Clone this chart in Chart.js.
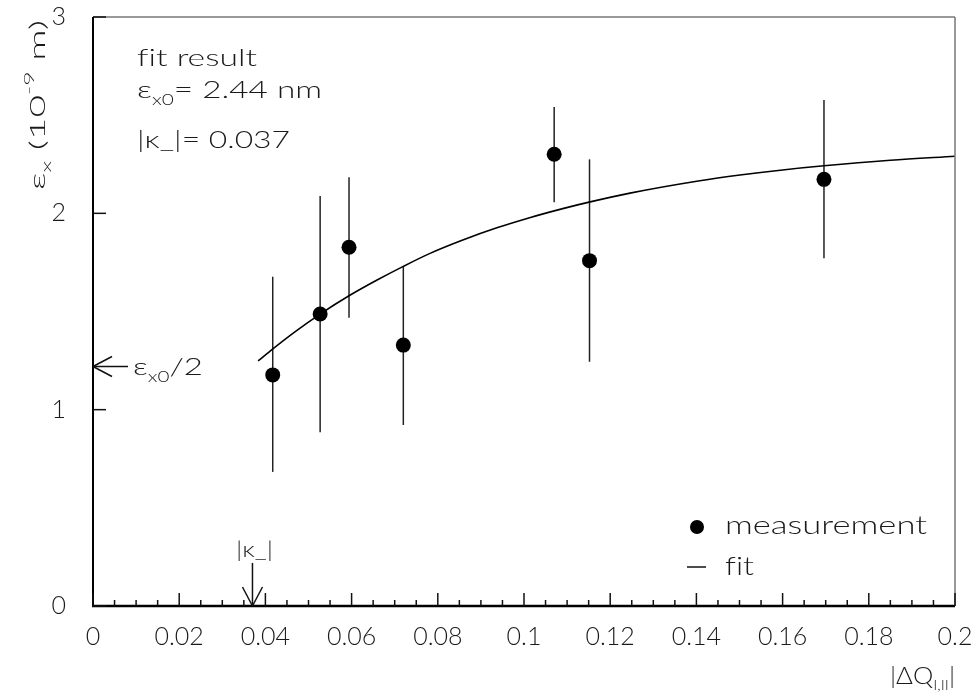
<!DOCTYPE html>
<html><head><meta charset="utf-8">
<script src="https://cdn.jsdelivr.net/npm/chart.js@4/dist/chart.umd.min.js"></script>
<style>html,body{margin:0;padding:0;background:#fff}#wrap{width:978px;height:695px}</style>
</head><body><div id="wrap"><canvas id="c" width="978" height="695"></canvas></div>
<script>
// ---- data ----
const measX   = [0.0417, 0.0527, 0.0594, 0.0720, 0.1070, 0.1152, 0.1696];
const measY   = [1.177, 1.487, 1.827, 1.329, 2.301, 1.759, 2.173];
const errLow  = [0.683, 0.885, 1.468, 0.922, 2.056, 1.244, 1.771];
const errHigh = [1.677, 2.088, 2.184, 1.732, 2.542, 2.275, 2.577];
const fitX = [0.0383, 0.0418, 0.0470, 0.0527, 0.0594, 0.0658, 0.0720, 0.0782, 0.0858, 0.0937,
              0.1015, 0.1090, 0.1151, 0.1246, 0.1408, 0.1501, 0.1600, 0.1696, 0.1850, 0.2000];
const fitY = [1.248, 1.311, 1.399, 1.487, 1.580, 1.659, 1.730, 1.796, 1.864, 1.926,
              1.979, 2.024, 2.057, 2.103, 2.166, 2.195, 2.221, 2.242, 2.270, 2.291];
const kappaMinus = 0.037;     // |kappa_-|
const epsX0 = 2.44;           // nm
const seriesLabels = ['measurement', 'fit'];
const xRange = [0, 0.2], yRange = [0, 3];
const xMinorStep = 0.005, xMajorStep = 0.02, yStep = 1;

// ---- helpers ----
const FONT = 'Lato, "DejaVu Sans", sans-serif';
const WEIGHT = '300';
const TXT = '#1a1a1a';
const ZW = '\u200C'; // break the "fi" ligature
function fnt(f) { return WEIGHT + ' ' + f + 'px ' + FONT; }
function richWidth(ctx, parts, fs) {
  let w = 0;
  for (const [t, k] of parts) {
    ctx.font = fnt(k === 'n' ? fs : Math.round(fs * 0.62));
    w += ctx.measureText(t).width;
  }
  return w;
}
function drawRich(ctx, x, y, parts, fs, target, align) {
  ctx.save();
  const w = richWidth(ctx, parts, fs);
  const sx = target ? target / w : 1;
  let x0 = x;
  if (align === 'right') x0 = x - w * sx;
  else if (align === 'center') x0 = x - w * sx / 2;
  ctx.translate(x0, y);
  ctx.scale(sx, 1);
  ctx.fillStyle = TXT;
  ctx.textBaseline = 'alphabetic';
  ctx.textAlign = 'left';
  let cx = 0;
  for (const [t, k] of parts) {
    const f = k === 'n' ? fs : Math.round(fs * 0.62);
    ctx.font = fnt(f);
    const dy = k === 'sub' ? fs * 0.28 : (k === 'sup' ? -fs * 0.5 : 0);
    ctx.fillText(t, cx, dy);
    cx += ctx.measureText(t).width;
  }
  ctx.restore();
}
function line(ctx, x1, y1, x2, y2) { ctx.beginPath(); ctx.moveTo(x1, y1); ctx.lineTo(x2, y2); ctx.stroke(); }
function noPad(s) { s.paddingTop = 0; s.paddingBottom = 0; s.paddingLeft = 0; s.paddingRight = 0; }
function noLig(s) { return s.replace(/fi/g, 'f' + ZW + 'i'); }

const deco = {
  id: 'deco',
  beforeDatasetsDraw(chart) {
    const ctx = chart.ctx, xs = chart.scales.x, ys = chart.scales.y;
    ctx.save();
    ctx.strokeStyle = '#222'; ctx.lineWidth = 1.5;
    measX.forEach((xv, i) => {
      const px = xs.getPixelForValue(xv);
      line(ctx, px, ys.getPixelForValue(errLow[i]), px, ys.getPixelForValue(errHigh[i]));
    });
    ctx.restore();
  },
  afterDraw(chart) {
    const ctx = chart.ctx, xs = chart.scales.x, ys = chart.scales.y, a = chart.chartArea;
    ctx.save();
    // frame
    ctx.strokeStyle = '#777'; ctx.lineWidth = 1.5;
    line(ctx, a.left, a.top, a.right, a.top);
    line(ctx, a.right, a.top, a.right, a.bottom);
    ctx.strokeStyle = '#000'; ctx.lineWidth = 2;
    line(ctx, a.left, a.top, a.left, a.bottom + 1);
    ctx.lineWidth = 2.5;
    line(ctx, a.left - 1, a.bottom, a.right, a.bottom);
    // ticks
    ctx.lineWidth = 1.5; ctx.strokeStyle = '#111';
    xs.ticks.forEach(t => {
      const px = xs.getPixelForValue(t.value);
      const major = Math.round(t.value * 1000) % Math.round(xMajorStep * 1000) === 0;
      line(ctx, px, a.bottom, px, a.bottom - (major ? 13 : 6));
    });
    ys.ticks.forEach(t => {
      const py = ys.getPixelForValue(t.value);
      line(ctx, a.left, py, a.left + 13, py);
    });
    // arrow at eps_x0/2
    const py = ys.getPixelForValue(epsX0 / 2);
    ctx.lineWidth = 1.5; ctx.strokeStyle = '#111';
    line(ctx, a.left, py, a.left + 35, py);
    line(ctx, a.left, py, a.left + 19, py - 10);
    line(ctx, a.left, py, a.left + 19, py + 10);
    drawRich(ctx, a.left + 40, py + 9, [['ε', 'n'], ['x0', 'sub'], ['/2', 'n']], 24, 70);
    // arrow at |kappa_-|
    const pk = xs.getPixelForValue(kappaMinus);
    line(ctx, pk, a.bottom - 43, pk, a.bottom);
    line(ctx, pk, a.bottom, pk - 10, a.bottom - 19);
    line(ctx, pk, a.bottom, pk + 10, a.bottom - 19);
    drawRich(ctx, pk + 2, a.bottom - 49, [['|', 'n'], ['κ', 'n'], ['_|', 'n']], 22, 37, 'center');
    // fit result text
    drawRich(ctx, 137, 66, [[noLig('fit result'), 'n']], 24, 120);
    drawRich(ctx, 137, 98, [['ε', 'n'], ['x0', 'sub'], ['= ' + epsX0.toFixed(2) + ' nm', 'n']], 24, 185);
    drawRich(ctx, 137, 148, [['|κ_|= ' + kappaMinus.toFixed(3), 'n']], 24, 153);
    // legend
    ctx.fillStyle = '#000';
    ctx.beginPath(); ctx.arc(697, 527, 7, 0, Math.PI * 2); ctx.fill();
    drawRich(ctx, 725, 534, [[seriesLabels[0], 'n']], 25, 202);
    ctx.lineWidth = 1.5; ctx.strokeStyle = '#111';
    line(ctx, 687, 567, 706, 567);
    drawRich(ctx, 725, 575, [[noLig(seriesLabels[1]), 'n']], 25, 29);
    // axis titles
    drawRich(ctx, 955, 684, [['|ΔQ', 'n'], ['I,II', 'sub'], ['|', 'n']], 23, 65, 'right');
    ctx.save();
    ctx.translate(45, 190);
    ctx.rotate(-Math.PI / 2);
    drawRich(ctx, 0, 0, [['ε', 'n'], ['x', 'sub'], [' (10', 'n'], ['-9', 'sup'], [' m)', 'n']], 22, 170);
    ctx.restore();
    ctx.restore();
  }
};

new Chart(document.getElementById('c'), {
  type: 'scatter',
  data: {
    datasets: [
      {
        label: seriesLabels[0],
        data: measX.map((x, i) => ({ x, y: measY[i] })),
        pointRadius: 7.5, pointHoverRadius: 7.5,
        backgroundColor: '#000', borderWidth: 0, showLine: false, order: 1
      },
      {
        label: seriesLabels[1],
        data: fitX.map((x, i) => ({ x, y: fitY[i] })),
        showLine: true, pointRadius: 0, borderColor: '#000', borderWidth: 1.6,
        cubicInterpolationMode: 'monotone', fill: false, order: 2
      }
    ]
  },
  options: {
    responsive: false, animation: false, devicePixelRatio: 1,
    layout: { padding: { top: 17, right: 23, left: 0, bottom: 0 } },
    plugins: { legend: { display: false }, tooltip: { enabled: false } },
    scales: {
      x: {
        type: 'linear', min: xRange[0], max: xRange[1],
        grid: { display: false }, border: { display: false },
        ticks: {
          stepSize: xMinorStep, autoSkip: false, maxRotation: 0, padding: 8,
          color: TXT, font: { family: FONT, size: 25, weight: WEIGHT },
          callback: v => (Math.round(v * 1000) % Math.round(xMajorStep * 1000) === 0) ? String(+v.toFixed(2)) : ''
        },
        afterFit(s) { s.height = 89; noPad(s); }
      },
      y: {
        min: yRange[0], max: yRange[1],
        grid: { display: false }, border: { display: false },
        ticks: { stepSize: yStep, padding: 19, color: TXT, font: { family: FONT, size: 25, weight: WEIGHT } },
        afterFit(s) { s.width = 93; noPad(s); }
      }
    }
  },
  plugins: [deco]
});
</script></body></html>
